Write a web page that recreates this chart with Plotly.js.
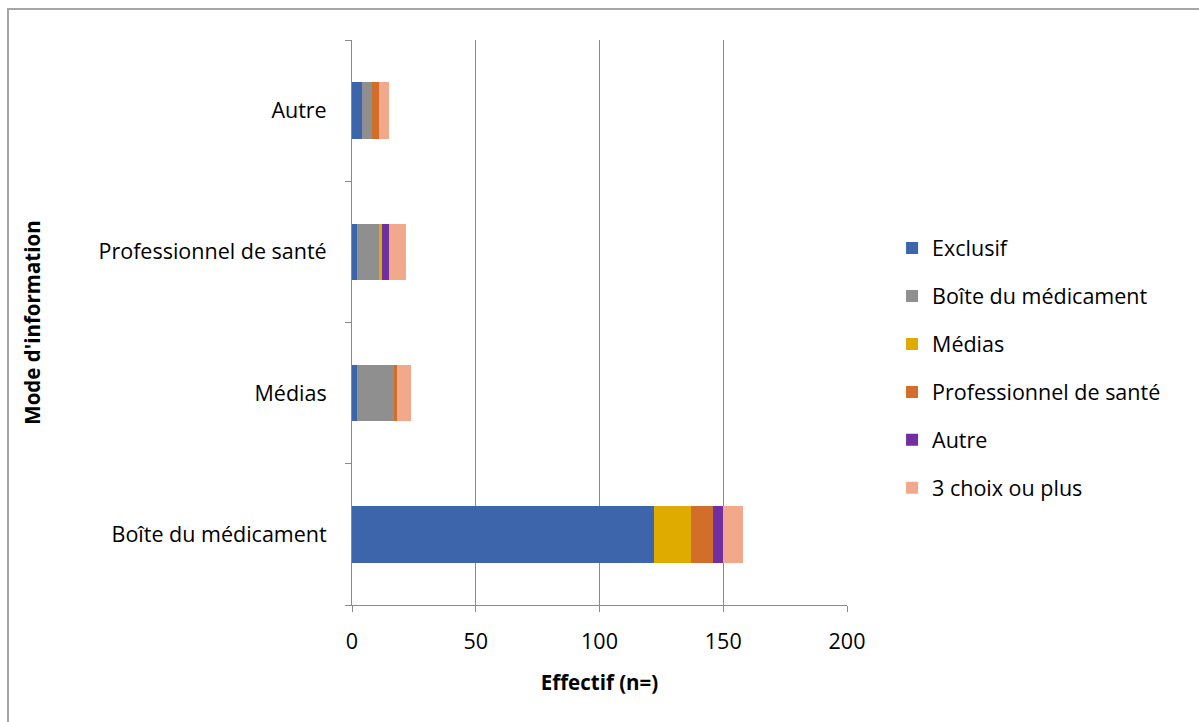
<!DOCTYPE html>
<html>
<head>
<meta charset="utf-8">
<script src="https://cdn.plot.ly/plotly-3.0.1.min.js"></script>
<style>
html,body{margin:0;padding:0;background:#fff;}
#wrap{position:relative;width:1199px;height:722px;overflow:hidden;}
#chart{width:1199px;height:722px;}
#frame{position:absolute;left:7px;top:8px;width:1210px;height:740px;border:2px solid #A6A6A6;pointer-events:none;}
</style>
</head>
<body>
<div id="wrap"><div id="chart"></div><div id="frame"></div></div>
<script>
const categories = ["Boîte du médicament", "Médias", "Professionnel de santé", "Autre"];
const seriesNames = ["Exclusif", "Boîte du médicament", "Médias", "Professionnel de santé", "Autre", "3 choix ou plus"];
const exclusif      = [122, 2, 2, 4];
const boite         = [0, 15, 9, 4];
const medias        = [15, 0, 1, 0];
const professionnel = [9, 1, 0, 3];
const autre         = [4, 0, 3, 0];
const troisPlus     = [8, 6, 7, 4];
const xTicks = [0, 50, 100, 150, 200];

const values = [exclusif, boite, medias, professionnel, autre, troisPlus];
const colors = ["#3C65AB", "#8F8F8F", "#E0AB00", "#D36E2A", "#7030A0", "#F2A98B"];
const FONT = "Open Sans, Noto Sans, sans-serif";
const FS = 21.5;

const traces = seriesNames.map((n, i) => ({
  type: "bar",
  orientation: "h",
  name: n,
  y: categories,
  x: values[i],
  legendgroup: "g" + i,
  marker: {color: colors[i], line: {width: 0}},
  hoverinfo: "x+y+name"
}));

const layout = {
  width: 1199, height: 722,
  margin: {l: 352, r: 352, t: 40, b: 117},
  paper_bgcolor: "#fff", plot_bgcolor: "#fff",
  barmode: "stack",
  bargap: 0.6,
  font: {family: FONT, size: FS, color: "#000"},
  showlegend: true,
  legend: {
    x: 1.091, xanchor: "left", y: 0.668, yanchor: "top",
    traceorder: "grouped", tracegroupgap: 17,
    font: {family: FONT, size: FS, color: "#000"},
    itemwidth: 30
  },
  xaxis: {
    range: [0, 200], tickvals: xTicks, ticktext: xTicks.map(String),
    showgrid: true, gridcolor: "#8A8A8A", gridwidth: 1,
    zeroline: false, showline: true, linecolor: "#8A8A8A", linewidth: 1,
    ticks: "outside", ticklen: 6, tickcolor: "#8A8A8A",
    ticklabelstandoff: 11,
    tickfont: {family: FONT, size: FS, color: "#000"},
    title: {text: "<b>Effectif (n=)</b>", font: {family: FONT, size: 20.5, color: "#000"}, standoff: 21},
    fixedrange: true
  },
  yaxis: {
    type: "category", categoryorder: "array", categoryarray: categories,
    showgrid: false, zeroline: false, showline: true, linecolor: "#8A8A8A", linewidth: 1,
    ticks: "outside", ticklen: 6, tickcolor: "#8A8A8A", tickson: "boundaries",
    ticklabelstandoff: 20,
    tickfont: {family: FONT, size: FS, color: "#000"},
    title: {text: "<b>Mode d'information</b>", font: {family: FONT, size: 20.5, color: "#000"}, standoff: 52},
    fixedrange: true
  }
};

Plotly.newPlot("chart", traces, layout, {displayModeBar: false, staticPlot: true});
</script>
</body>
</html>
